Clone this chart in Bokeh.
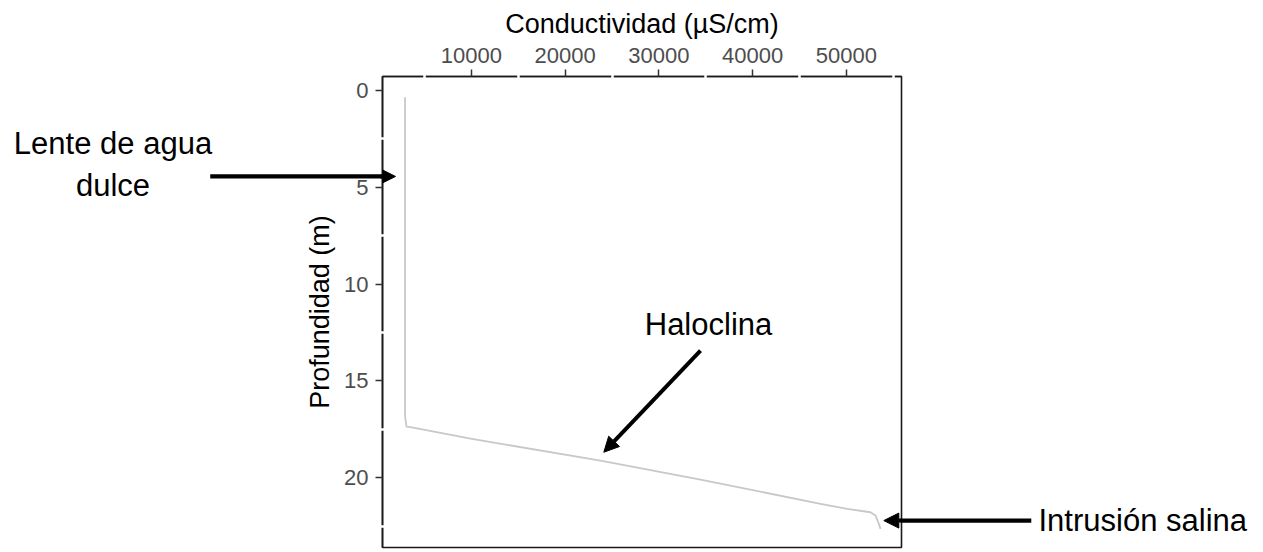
from bokeh.plotting import figure
from bokeh.models import Range1d, FixedTicker, Label, Arrow, NormalHead
from bokeh.embed import file_html
from bokeh.resources import INLINE

# Conductivity profile (µS/cm) against depth (m)
depth_m = [0.35, 16.79, 17.36, 17.39, 17.98, 19.11, 20.09, 21.35, 21.61, 21.78, 21.95, 22.38, 22.64]
conductivity = [2920, 2920, 3080, 3510, 9910, 23770, 34440, 47240, 50090, 52570, 53110, 53460, 53640]

x_ticks = [10000, 20000, 30000, 40000, 50000]
x_minor = [5000, 15000, 25000, 35000, 45000, 55000]
y_ticks = [0, 5, 10, 15, 20]
y_minor = [2.5, 7.5, 12.5, 17.5, 22.5]

FONT = "Liberation Sans"

p = figure(
    width=1263, height=552,
    x_axis_location="above",
    x_range=Range1d(520, 55880),
    y_range=Range1d(23.6, -0.72),
    output_backend="svg", toolbar_location=None,
    min_border_left=382, min_border_right=362,
    min_border_top=76, min_border_bottom=5,
)
p.background_fill_color = "white"
p.border_fill_color = "white"
p.grid.visible = False
p.outline_line_color = "#1A1A1A"
p.outline_line_width = 1.6

p.line(conductivity, depth_m, line_color="#C8C8C8", line_width=1.8)

for ax in (p.xaxis[0], p.yaxis[0]):
    ax.axis_line_color = "#1A1A1A"
    ax.axis_line_width = 1.6
    ax.major_tick_line_color = "#333333"
    ax.major_tick_line_width = 1.5
    ax.major_tick_in = 0
    ax.major_tick_out = 7
    # white minor marks leave small breaks in the panel border
    ax.minor_tick_line_color = "white"
    ax.minor_tick_line_width = 2.5
    ax.minor_tick_in = 2
    ax.minor_tick_out = 2
    ax.major_label_text_color = "#4D4D4D"
    ax.major_label_text_font = FONT
    ax.major_label_text_font_size = "22px"
    ax.major_label_standoff = 7
    ax.axis_label_text_font = FONT
    ax.axis_label_text_font_size = "27px"
    ax.axis_label_text_font_style = "normal"
    ax.axis_label_text_color = "black"
    ax.axis_label_standoff = 6

p.xaxis[0].ticker = FixedTicker(ticks=x_ticks, minor_ticks=x_minor)
p.yaxis[0].ticker = FixedTicker(ticks=y_ticks, minor_ticks=y_minor)
p.xaxis[0].axis_label = "Conductividad (µS/cm)"
p.yaxis[0].axis_label = "Profundidad (m)"

# Arrows: heads and the inner part of each shaft
head = dict(size=15, fill_color="black", line_color="black", line_width=1)
arrows = [
    (-17827, 4.44, 1907, 4.44),
    (34440, 13.43, 24125, 18.68),
    (69640, 22.21, 53992, 22.21),
]
for xs, ys, xe, ye in arrows:
    p.add_layout(Arrow(end=NormalHead(**head), x_start=xs, y_start=ys, x_end=xe, y_end=ye,
                       line_color="black", line_width=4))

# Shaft segments lying in the margins (filled boxes held by the side panels)
shafts = [
    (-8653, 4.44, 86, "below"),
    (62760, 22.21, 65, "right"),
]
for x, y, half_len, side in shafts:
    p.add_layout(Label(x=x, y=y, text=" ", text_align="center", text_baseline="middle",
                       text_font_size="2px", padding=(half_len, 1),
                       background_fill_color="black"), side)

labels = [
    ("Lente de agua", -28227, 2.73, "center", "left"),
    ("dulce", -28227, 4.9, "center", "left"),
    ("Haloclina", 35293, 12.08, "center", "center"),
    ("Intrusión salina", 70493, 22.2, "left", "right"),
]
for txt, x, y, align, side in labels:
    p.add_layout(Label(x=x, y=y, text=txt, text_align=align, text_baseline="alphabetic",
                       text_font=FONT, text_font_size="31px", text_color="black"), side)

open("out.html", "w").write(file_html(p, INLINE))
